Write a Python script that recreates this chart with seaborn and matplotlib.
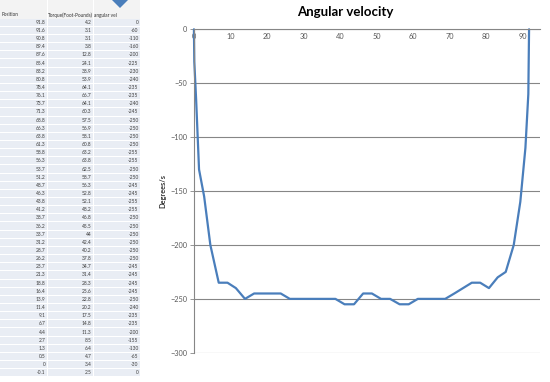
import matplotlib
matplotlib.use("Agg")
import matplotlib.pyplot as plt
import seaborn as sns
import pandas as pd
from matplotlib.patches import Rectangle

position = [91.8, 91.6, 90.8, 89.4, 87.6, 85.4, 83.2, 80.8, 78.4, 76.1, 73.7, 71.3,
            68.8, 66.3, 63.8, 61.3, 58.8, 56.3, 53.7, 51.2, 48.7, 46.3, 43.8, 41.2,
            38.7, 36.2, 33.7, 31.2, 28.7, 26.2, 23.7, 21.3, 18.8, 16.4, 13.9, 11.4,
            9.1, 6.7, 4.4, 2.7, 1.3, 0.5, 0, -0.1]
torque = [4.2, 3.1, 3.1, 3.8, 12.8, 24.1, 38.9, 53.9, 64.1, 66.7, 64.1, 60.3,
          57.5, 56.9, 58.1, 60.8, 63.2, 63.8, 62.5, 58.7, 56.3, 52.8, 52.1, 48.2,
          46.8, 45.5, 44, 42.4, 40.2, 37.8, 34.7, 31.4, 28.3, 25.6, 22.8, 20.2,
          17.5, 14.8, 11.3, 8.5, 6.4, 4.7, 3.4, 2.5]
angular_vel = [0, -60, -110, -160, -200, -225, -230, -240, -235, -235, -240, -245,
               -250, -250, -250, -250, -255, -255, -250, -250, -245, -245, -255, -255,
               -250, -250, -250, -250, -250, -250, -245, -245, -245, -245, -250, -240,
               -235, -235, -200, -155, -130, -65, -30, 0]
headers = ["Position", "Torque(Foot-Pounds)", "angular vel"]
chart_title = "Angular velocity"
y_label = "Degrees/s"
x_ticks = [0, 10, 20, 30, 40, 50, 60, 70, 80, 90]
y_ticks = [0, -50, -100, -150, -200, -250, -300]

sns.set_theme(style="white")
plt.rcParams["font.family"] = ["Lato", "DejaVu Sans"]

W, H = 550, 382
fig = plt.figure(figsize=(W / 100, H / 100), dpi=100)

# ---- spreadsheet area (pixel coordinates) ----
bg = fig.add_axes([0, 0, 1, 1], zorder=0)
bg.set_xlim(0, W)
bg.set_ylim(H, 0)
bg.axis("off")

col_edges = [(0, 47), (48, 93), (94, 140)]
# header block
for (x0, x1) in col_edges:
    bg.add_patch(Rectangle((x0, 0), x1 - x0, 19, facecolor="#f3f3f3", edgecolor="none"))
hdr_y = 15
bg.text(2, hdr_y, headers[0], fontsize=3.4, color="#333333", va="center", ha="left")
bg.text(47.5, hdr_y, headers[1], fontsize=3.4, color="#333333", va="center", ha="left")
bg.text(94.5, hdr_y, headers[2], fontsize=3.4, color="#333333", va="center", ha="left")

# small blue diamond shape at top (partially cut)
bg.add_patch(plt.Polygon([[112, 0], [128, 0], [120, 8]], closed=True,
                         facecolor="#4a7ebb", edgecolor="none"))

row0 = 22.3
rh = 8.15
for i in range(len(position)):
    yc = row0 + i * rh
    for (x0, x1) in col_edges:
        bg.add_patch(Rectangle((x0, yc - rh / 2 + 0.5), x1 - x0, rh - 1,
                               facecolor="#e9edf4", edgecolor="none"))
    vals = [position[i], torque[i], angular_vel[i]]
    for (x0, x1), v in zip(col_edges, vals):
        bg.text(x1 - 1.5, yc, f"{v:g}", fontsize=3.5, color="#404040",
                ha="right", va="center")

# ---- chart ----
left, right, top, bottom = 194.3, 540, 29.3, 352.8
ax = fig.add_axes([left / W, 1 - bottom / H, (right - left) / W, (bottom - top) / H], zorder=2)
ax.patch.set_alpha(0)

df = pd.DataFrame({"position": position, "angular_vel": angular_vel})
sns.lineplot(data=df, x="position", y="angular_vel", ax=ax, estimator=None,
             color="#4a7ebb", linewidth=1.6, clip_on=False)

ax.set_xlim(0, 94.8)
ax.set_ylim(-300, 0)
ax.set_yticks(y_ticks)
ax.set_xticks(x_ticks)
ax.grid(axis="y", color="#868686", linewidth=0.8)
ax.grid(axis="x", visible=False)
for s in ["top", "right"]:
    ax.spines[s].set_visible(False)
ax.spines["left"].set_color("#868686")
ax.spines["left"].set_linewidth(0.8)
ax.spines["bottom"].set_position(("data", 0))
ax.spines["bottom"].set_color("#868686")
ax.spines["bottom"].set_linewidth(0.8)
ax.tick_params(axis="x", direction="in", length=3, width=0.6, color="#868686",
               labelsize=5.3, labelcolor="#595959", pad=2.5)
ax.tick_params(axis="y", direction="out", length=3, width=0.6, color="#868686",
               labelsize=5.3, labelcolor="#595959", pad=2, left=True)
ax.set_xlabel("")
ax.set_ylabel(y_label, fontsize=5.3, fontweight="bold", color="#333333", labelpad=3)

fig.text(345 / W, 1 - 12 / H, chart_title, fontsize=9.5, fontweight="bold",
         color="#000000", ha="center", va="center")

fig.savefig("out.png", dpi=100)
